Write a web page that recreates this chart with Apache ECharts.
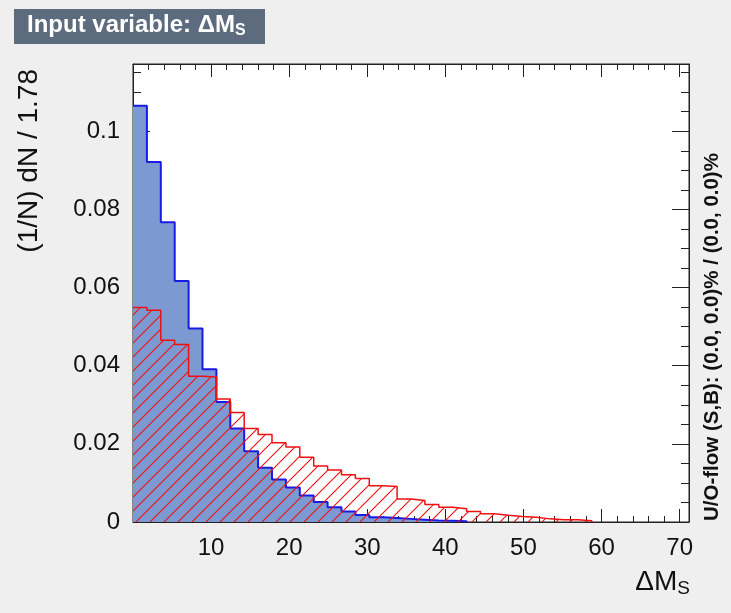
<!DOCTYPE html>
<html>
<head>
<meta charset="utf-8">
<script src="https://cdn.jsdelivr.net/npm/echarts@6/dist/echarts.min.js"></script>
<style>
html,body{margin:0;padding:0;background:#efefef;}
#c{width:731px;height:613px;}
</style>
</head>
<body>
<div id="c"></div>
<script>
// ---- data ----
const binWidth = 1.78;
const xMin = 0;
const xMax = 71.2;
const yMax = 0.1172;
const xTickValues = [10, 20, 30, 40, 50, 60, 70];
const yTickValues = [0, 0.02, 0.04, 0.06, 0.08, 0.1];
// signal (blue) per-bin values, starting at xMin
const signal = [0.1065, 0.0921, 0.0767, 0.0617, 0.0495, 0.0391, 0.0307, 0.0239, 0.0181, 0.0139,
  0.0109, 0.0088, 0.0068, 0.0051, 0.0038, 0.0027, 0.0018, 0.0012, 0.0010, 0.0008,
  0.0006, 0.0004, 0.0003, 0.0002];
// background (red hatched) per-bin values
const background = [0.0549, 0.0542, 0.0465, 0.0454, 0.0373, 0.0371, 0.0315, 0.0280, 0.0239, 0.0224,
  0.0203, 0.0192, 0.0166, 0.0143, 0.0133, 0.0121, 0.0111, 0.0093, 0.0091, 0.0059,
  0.0055, 0.0045, 0.0038, 0.0034, 0.0027, 0.0021, 0.0017, 0.0014, 0.0012, 0.0008,
  0.0006, 0.0006, 0.0003];

function stepData(vals) {
  const d = vals.map((v, i) => [xMin + i * binWidth, v]);
  d.push([xMin + vals.length * binWidth, 0]);
  return d;
}

// hatch pattern
const pc = document.createElement('canvas');
const P = 14;
pc.width = P; pc.height = P;
const g = pc.getContext('2d');
g.strokeStyle = '#f01010';
g.lineWidth = 1.1;
g.beginPath();
g.moveTo(-1, P + 1); g.lineTo(P + 1, -1);
g.moveTo(-1, 1); g.lineTo(1, -1);
g.moveTo(P - 1, P + 1); g.lineTo(P + 1, P - 1);
g.stroke();

const chart = echarts.init(document.getElementById('c'), null, {renderer: 'canvas'});
const FONT = '"Liberation Sans", Arial, Helvetica, sans-serif';
const axisColor = '#222';

function xAx(pos, showLabel) {
  return {
    type: 'value', position: pos, min: xMin, max: xMax, interval: 10,
    axisLine: {show: true, onZero: false, lineStyle: {color: axisColor, width: 1}},
    axisTick: {show: true, inside: true, length: 13, lineStyle: {color: axisColor}},
    minorTick: {show: true, splitNumber: 5, length: 6, lineStyle: {color: axisColor}},
    splitLine: {show: false},
    axisLabel: {
      show: showLabel, margin: 14, fontFamily: FONT, fontSize: 24, color: '#111',
      formatter: v => (xTickValues.indexOf(v) >= 0 ? String(v) : '')
    }
  };
}
function yAx(pos, showLabel) {
  return {
    type: 'value', position: pos, min: 0, max: yMax, interval: 0.02,
    axisLine: {show: true, onZero: false, lineStyle: {color: axisColor, width: 1}},
    axisTick: {show: true, inside: true, length: 17, lineStyle: {color: axisColor}},
    minorTick: {show: true, splitNumber: 4, length: 8, lineStyle: {color: axisColor}},
    splitLine: {show: false},
    axisLabel: {
      show: showLabel, margin: 13, fontFamily: FONT, fontSize: 24, color: '#111',
      formatter: v => {
        const m = yTickValues.find(t => Math.abs(t - v) < 1e-9);
        return m === undefined ? '' : String(m);
      }
    }
  };
}

chart.setOption({
  backgroundColor: '#efefef',
  animation: false,
  grid: {left: 133, right: 42, top: 64, bottom: 91, show: true, backgroundColor: '#ffffff', borderColor: axisColor, borderWidth: 1},
  xAxis: [xAx('bottom', true), xAx('top', false)],
  yAxis: [yAx('left', true), yAx('right', false)],
  series: [
    {
      type: 'line', step: 'end', symbol: 'none', data: stepData(signal),
      lineStyle: {color: '#1a1ae6', width: 2},
      areaStyle: {color: '#7d99d1', opacity: 1},
      z: 2
    },
    {
      type: 'line', step: 'end', symbol: 'none', data: stepData(background),
      lineStyle: {color: '#f01010', width: 1.5},
      areaStyle: {color: {image: pc, repeat: 'repeat'}, opacity: 1},
      z: 3
    }
  ],
  graphic: [
    {type: 'rect', left: 14, top: 9, shape: {width: 251, height: 35}, style: {fill: '#5d6b7e'}},
    {type: 'text', left: 27, top: 12, style: {
      rich: {
        a: {fontFamily: FONT, fontWeight: 'bold', fontSize: 24, fill: '#fff', lineHeight: 28},
        s: {fontFamily: FONT, fontWeight: 'bold', fontSize: 16, fill: '#fff', lineHeight: 28, padding: [11, 0, 0, 0]}
      },
      text: '{a|Input variable: ΔM}{s|S}'
    }},
    {type: 'text', x: 29, y: 69, rotation: Math.PI / 2, style: {
      text: '(1/N) dN / 1.78', fontFamily: FONT, fontSize: 28, fill: '#111',
      align: 'right', verticalAlign: 'middle'
    }},
    {type: 'text', x: 690, y: 582, style: {
      rich: {
        a: {fontFamily: FONT, fontSize: 28, fill: '#111', lineHeight: 32},
        s: {fontFamily: FONT, fontSize: 19, fill: '#111', lineHeight: 32, padding: [13, 0, 0, 0]}
      },
      text: '{a|ΔM}{s|S}', align: 'right', verticalAlign: 'middle'
    }},
    {type: 'text', x: 712, y: 521, rotation: Math.PI / 2, style: {
      text: 'U/O-flow (S,B): (0.0, 0.0)% / (0.0, 0.0)%', fontFamily: FONT, fontWeight: 'bold',
      fontSize: 20.5, fill: '#111', align: 'left', verticalAlign: 'middle'
    }}
  ]
});
</script>
</body>
</html>
